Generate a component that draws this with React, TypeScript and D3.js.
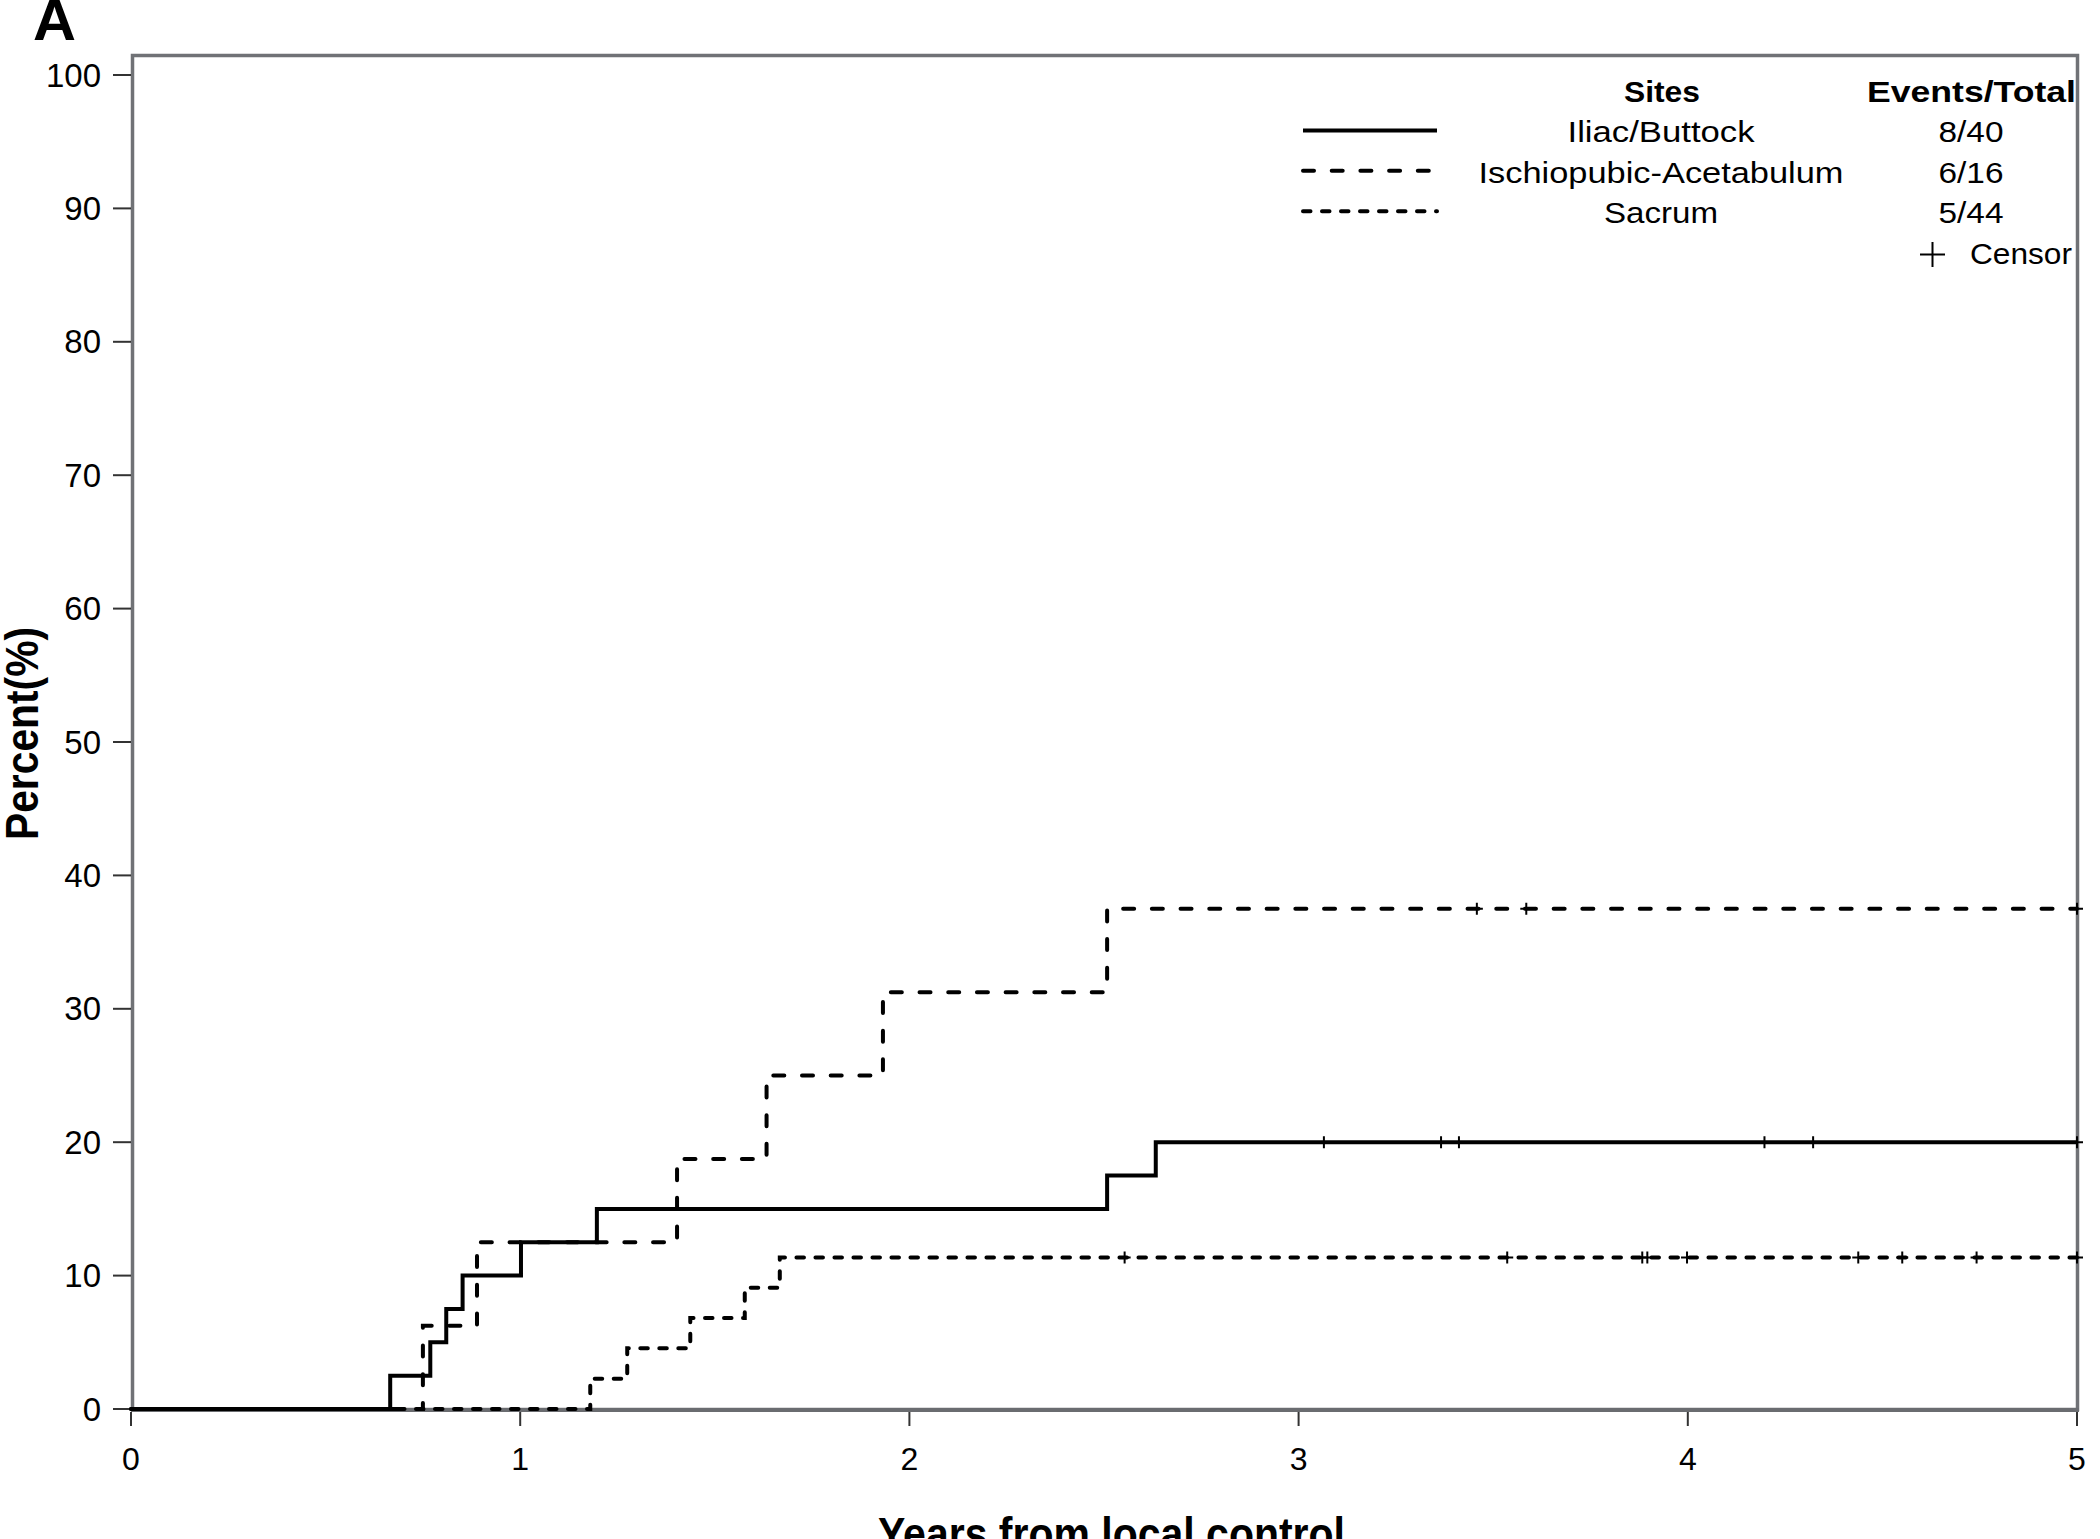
import React from 'react';
import * as d3 from 'd3';

// step times (years) and cumulative incidence (%)
const iliacTimes = [0, 0.666, 0.769, 0.81, 0.852, 1.002, 1.197, 2.508, 2.633];
const iliacPct = [0, 2.5, 5, 7.5, 10, 12.5, 15, 17.5, 20];
const iliacCensor = [3.065, 3.366, 3.412, 4.197, 4.322, 5.0];

const ischioTimes = [0, 0.75, 0.889, 1.403, 1.633, 1.932, 2.508];
const ischioPct = [0, 6.25, 12.5, 18.75, 25, 31.25, 37.5];
const ischioCensor = [3.458, 3.585, 5.0];

const sacrumTimes = [0, 1.18, 1.275, 1.437, 1.577, 1.667];
const sacrumPct = [0, 2.27, 4.55, 6.82, 9.09, 11.36];
const sacrumCensor = [2.553, 3.536, 3.883, 3.896, 3.998, 4.438, 4.551, 4.742, 5.0];

const siteNames = ['Iliac/Buttock', 'Ischiopubic-Acetabulum', 'Sacrum'];
const eventsTotal = ['8/40', '6/16', '5/44'];
const dashes = [null, '11 17.7', '7.5 11.5'];

const xTicks = [0, 1, 2, 3, 4, 5];
const yTicks = [0, 10, 20, 30, 40, 50, 60, 70, 80, 90, 100];
const endTime = 5;

const W = 2100;
const H = 1539;
const font = '"Liberation Sans", Arial, sans-serif';

const x = d3.scaleLinear().domain([0, 5]).range([131, 2077]);
const y = d3.scaleLinear().domain([0, 100]).range([1409, 75]);

const stepLine = d3
  .line<[number, number]>()
  .x((d) => x(d[0]))
  .y((d) => y(d[1]))
  .curve(d3.curveStepAfter);

const toPoints = (times: number[], pct: number[]): [number, number][] => {
  const pts: [number, number][] = times.map((t, i) => [t, pct[i]]);
  pts.push([endTime, pct[pct.length - 1]]);
  return pts;
};

const series = [
  { times: iliacTimes, pct: iliacPct, censor: iliacCensor },
  { times: ischioTimes, pct: ischioPct, censor: ischioCensor },
  { times: sacrumTimes, pct: sacrumPct, censor: sacrumCensor },
];

// value of a step curve at time t
const valueAt = (times: number[], pct: number[], t: number) => {
  const i = d3.bisectRight(times, t) - 1;
  return pct[Math.max(0, i)];
};

// measured text widths in the legend
const nameWidths = [187, 365, 114];
const countWidth = 65;

const App = () => {
  const legendBase = 102;
  const legendStep = 40.4;
  return (
    <svg
      width={W}
      height={H}
      style={{ position: 'absolute', left: 0, top: 0, background: '#fff' }}
      fontFamily={font}
    >
      <rect x={0} y={0} width={W} height={H} fill="#fff" />
      <text x={33} y={40} fontSize={58} fontWeight="bold" textLength={43} lengthAdjust="spacingAndGlyphs">
        A
      </text>

      {/* frame */}
      <rect x={132.5} y={55.5} width={1945} height={1354} fill="none" stroke="#707276" strokeWidth={3.5} />
      <line x1={131} x2={2079} y1={1410} y2={1410} stroke="#6a6c70" strokeWidth={4} />

      {/* y axis */}
      {yTicks.map((v) => (
        <g key={'y' + v}>
          <line x1={113} x2={131} y1={y(v)} y2={y(v)} stroke="#333" strokeWidth={2} />
          <text x={101} y={y(v)} dy="0.35em" textAnchor="end" fontSize={33}>
            {v}
          </text>
        </g>
      ))}
      <text
        transform={`translate(38,733.5) rotate(-90)`}
        x={-106.5}
        fontSize={46}
        fontWeight="bold"
        textLength={213}
        lengthAdjust="spacingAndGlyphs"
      >
        Percent(%)
      </text>

      {/* x axis */}
      {xTicks.map((v) => (
        <g key={'x' + v}>
          <line x1={x(v)} x2={x(v)} y1={1412} y2={1426} stroke="#333" strokeWidth={2} />
          <text x={x(v)} y={1470} textAnchor="middle" fontSize={32}>
            {v}
          </text>
        </g>
      ))}
      <text
        x={878}
        y={1550}
        fontSize={46}
        fontWeight="bold"
        textLength={467}
        lengthAdjust="spacingAndGlyphs"
      >
        Years from local control
      </text>

      {/* curves */}
      {series.map((s, i) => (
        <g key={'s' + i}>
          <path
            d={stepLine(toPoints(s.times, s.pct)) || ''}
            fill="none"
            stroke="#000"
            strokeWidth={4}
            strokeDasharray={dashes[i] || undefined}
            strokeLinecap={dashes[i] ? 'round' : 'butt'}
          />
          {s.censor.map((c, j) => {
            const cx = x(c);
            const cy = y(valueAt(s.times, s.pct, c));
            return (
              <path
                key={j}
                d={`M${cx - 6},${cy}H${cx + 6}M${cx},${cy - 6}V${cy + 6}`}
                stroke="#000"
                strokeWidth={2}
              />
            );
          })}
        </g>
      ))}

      {/* legend */}
      <g fontSize={29}>
        <text x={1624} y={legendBase} fontWeight="bold" textLength={76} lengthAdjust="spacingAndGlyphs">
          Sites
        </text>
        <text x={1867} y={legendBase} fontWeight="bold" textLength={209} lengthAdjust="spacingAndGlyphs">
          Events/Total
        </text>
        {siteNames.map((name, i) => {
          const by = legendBase + legendStep * (i + 1);
          return (
            <g key={name}>
              <line
                x1={1303}
                x2={1437}
                y1={by - 12}
                y2={by - 12}
                stroke="#000"
                strokeWidth={4}
                strokeDasharray={dashes[i] || undefined}
                strokeLinecap={dashes[i] ? 'round' : 'butt'}
              />
              <text
                x={1661 - nameWidths[i] / 2}
                y={by}
                textLength={nameWidths[i]}
                lengthAdjust="spacingAndGlyphs"
              >
                {name}
              </text>
              <text
                x={1971 - countWidth / 2}
                y={by}
                textLength={countWidth}
                lengthAdjust="spacingAndGlyphs"
              >
                {eventsTotal[i]}
              </text>
            </g>
          );
        })}
        <path
          d={`M1920,${legendBase + legendStep * 4 - 9}H1945M1932.5,${legendBase + legendStep * 4 - 21.5}V${
            legendBase + legendStep * 4 + 3.5
          }`}
          stroke="#000"
          strokeWidth={2}
        />
        <text x={1970} y={legendBase + legendStep * 4} textLength={102} lengthAdjust="spacingAndGlyphs">
          Censor
        </text>
      </g>
    </svg>
  );
};

export default App;
